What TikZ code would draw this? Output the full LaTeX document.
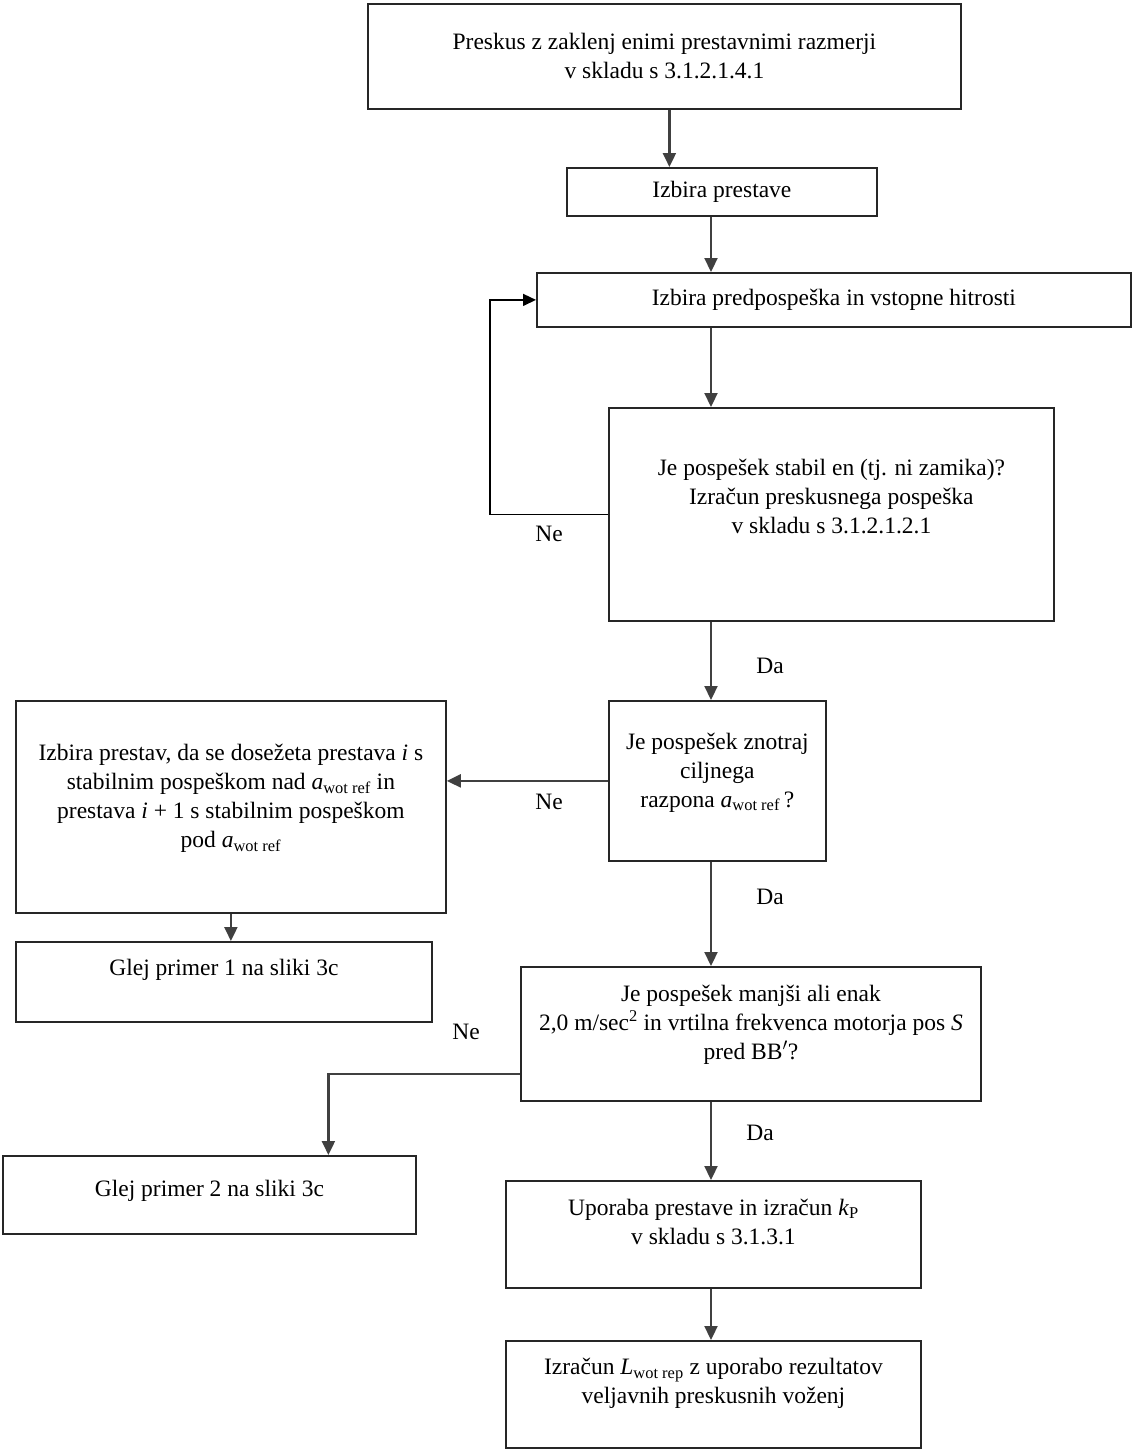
\documentclass[tikz,border=0pt]{standalone}
\usepackage{fontspec}
\setmainfont{Liberation Serif}
\usetikzlibrary{arrows.meta,positioning}
\tikzset{
  flowbox/.style={
    draw=black!85,
    line width=1.8pt,
    anchor=north west,
    align=center,
    inner sep=3pt,
    font=\fontsize{23.5}{29}\selectfont
  },
  flowarrow/.style={-{Triangle[length=14pt,width=13pt]}, line width=2.2pt, draw=black!75},
  looparrow/.style={-{Triangle[length=13pt,width=12pt]}, line width=1.4pt, draw=black},
  answer/.style={font=\fontsize{23.5}{26}\selectfont, inner sep=0pt}
}
\newcommand{\awot}{\textit{a}\textsubscript{wot ref}}
% invisible depth on the last line lifts the text inside its box
\newcommand{\lift}[1]{\rule[-#1]{0pt}{#1}}

\begin{document}
\begin{tikzpicture}[x=1pt,y=-1pt]
\useasboundingbox (0,0) rectangle (1133,1449);
\coordinate (spine) at (711,0);

\node[flowbox, minimum width=593, minimum height=105] (test) at (367,3) {Preskus z zaklenj enimi prestavnimi razmerji\\v skladu s 3.1.2.1.4.1};
\node[flowbox, minimum width=310, minimum height=48] (gear) at (566,167) {Izbira prestave};
\node[flowbox, minimum width=594, minimum height=54] (launch) at (536,272) {Izbira predpospeška in vstopne hitrosti};
\node[flowbox, minimum width=445, minimum height=213] (stable) at (608,407) {Je pospešek stabil en (tj. ni zamika)?\\Izračun preskusnega pospeška\\v skladu s 3.1.2.1.2.1\lift{36pt}};
\node[flowbox, minimum width=217, minimum height=160] (range) at (608,700) {Je pospešek znotraj\\ciljnega\\razpona \awot\,?\lift{22pt}};
\node[flowbox, minimum width=430, minimum height=212] (choose) at (15,700) {Izbira prestav, da se dosežeta prestava \textit{i} s\\stabilnim pospeškom nad \awot{} in\\prestava \textit{i} + 1 s stabilnim pospeškom\\pod \awot\lift{22pt}};
\node[flowbox, minimum width=416, minimum height=80] (ex1) at (15,941) {Glej primer 1 na sliki 3c\lift{30pt}};
\node[flowbox, minimum width=460, minimum height=134] (limit) at (520,966) {Je pospešek manjši ali enak\\2,0 m/sec\textsuperscript{2} in vrtilna frekvenca motorja pos \textit{S}\\pred BB$'$?\lift{24pt}};
\node[flowbox, minimum width=413, minimum height=78] (ex2) at (2,1155) {Glej primer 2 na sliki 3c\lift{13pt}};
\node[flowbox, minimum width=415, minimum height=107] (kp) at (505,1180) {Uporaba prestave in izračun \textit{k}\textsubscript{P}\\v skladu s 3.1.3.1\lift{26pt}};
\node[flowbox, minimum width=415, minimum height=107] (lwot) at (505,1340) {Izračun \textit{L}\textsubscript{wot rep} z uporabo rezultatov\\veljavnih preskusnih voženj\lift{27pt}};

\node[answer] (ne1) at (549,534) {Ne};
\node[answer] (da1) at (770,666) {Da};
\node[answer] (ne2) at (549,802) {Ne};
\node[answer] (da2) at (770,897) {Da};
\node[answer] (ne3) at (466,1032) {Ne};
\node[answer] (da3) at (760,1133) {Da};

\draw[flowarrow] ([xshift=5pt]test.south) -- ([xshift=5pt]test.south |- gear.north);
\draw[flowarrow] (gear.south -| spine) -- (launch.north -| spine);
\draw[flowarrow] (launch.south -| spine) -- (stable.north -| spine);
\draw[looparrow] (stable.west) -- ++(-118,0) |- (launch.west);
\draw[flowarrow] (stable.south -| spine) -- (range.north -| spine);
\draw[flowarrow] (range.west) -- (range.west -| choose.east);
\draw[flowarrow] (choose.south) -- (choose.south |- ex1.north);
\draw[flowarrow] (range.south -| spine) -- (limit.north -| spine);
\draw[flowarrow] ([yshift=-40pt]limit.west) -| ([xshift=119pt]ex2.north);
\draw[flowarrow] (limit.south -| spine) -- (kp.north -| spine);
\draw[flowarrow] (kp.south -| spine) -- (lwot.north -| spine);
\end{tikzpicture}
\end{document}
